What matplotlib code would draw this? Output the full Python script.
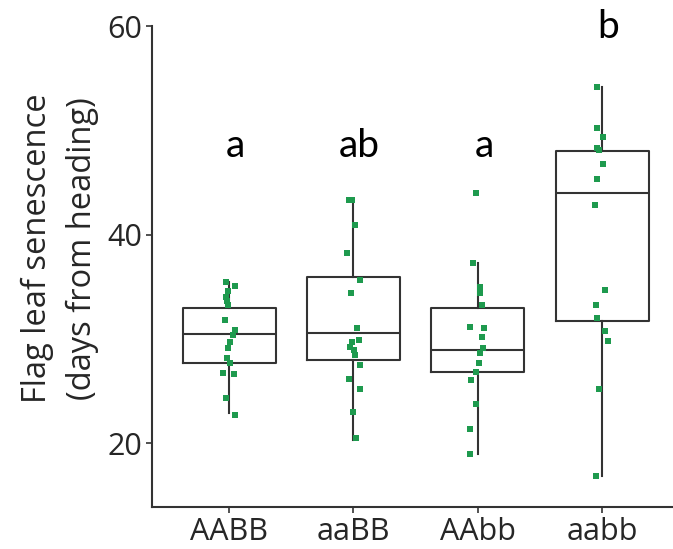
import matplotlib
matplotlib.use("Agg")
import matplotlib.pyplot as plt

GENOTYPES = ["AABB", "aaBB", "AAbb", "aabb"]
LETTERS = ["a", "ab", "a", "b"]
LETTER_Y = [47.4, 47.4, 47.4, 58.85]

# box stats
Q1 = [27.7, 28.0, 26.8, 31.7]
MEDIAN = [30.5, 30.6, 28.9, 44.0]
Q3 = [33.0, 35.9, 33.0, 48.0]
WHISK_LO = [22.9, 20.3, 18.9, 16.8]
WHISK_HI = [35.4, 43.3, 37.3, 54.2]

# individual plants (days) and their horizontal jitter
AABB_VALS = [35.4, 35.1, 34.6, 34.0, 33.6, 33.25, 31.8, 30.85, 30.4, 29.7,
             29.1, 28.2, 27.7, 26.7, 26.6, 24.3, 22.7]
AABB_JIT = [-0.027, 0.048, -0.006, -0.027, -0.019, -0.006, -0.032, 0.048, 0.027, 0.008,
            -0.006, -0.014, 0.008, -0.046, 0.035, -0.027, 0.043]
AABB2_VALS = [43.3, 43.3, 40.9, 38.2, 35.6, 34.4, 31.0, 29.9, 29.7, 29.2,
              28.9, 28.4, 27.5, 26.1, 25.2, 23.0, 20.5]
AABB2_JIT = [-0.038, -0.011, 0.011, -0.051, 0.051, -0.019, 0.030, 0.043, -0.011, -0.030,
             0.003, 0.016, 0.056, -0.038, 0.056, -0.003, 0.024]
AABB3_VALS = [44.0, 37.3, 35.0, 34.4, 33.25, 31.1, 31.0, 30.2, 29.1, 28.6,
              27.7, 26.8, 26.0, 23.7, 21.3, 18.9]
AABB3_JIT = [-0.011, -0.038, 0.016, 0.016, 0.030, -0.059, 0.048, 0.030, 0.043, 0.016,
             0.011, -0.016, -0.051, -0.016, -0.065, -0.059]
AABB4_VALS = [54.2, 50.2, 49.4, 48.3, 48.1, 46.8, 45.3, 42.8, 34.7, 33.25,
              32.0, 30.7, 29.8, 25.2, 16.8]
AABB4_JIT = [-0.038, -0.043, 0.005, -0.038, -0.027, 0.005, -0.043, -0.056, 0.024, -0.048,
             -0.043, 0.024, 0.051, -0.022, -0.051]

POINTS = [(AABB_VALS, AABB_JIT), (AABB2_VALS, AABB2_JIT),
          (AABB3_VALS, AABB3_JIT), (AABB4_VALS, AABB4_JIT)]

GREEN = "#1e9a4e"
LINE = "#333333"
TEXT = "#262626"

plt.rcParams["font.family"] = ["Open Sans", "DejaVu Sans"]

fig = plt.figure(figsize=(6.73, 5.49), dpi=100)
ax = fig.add_axes([0.226, 0.0765, 0.774, 0.876])

positions = list(range(1, len(GENOTYPES) + 1))
stats = []
for i, g in enumerate(GENOTYPES):
    stats.append({"label": g, "q1": Q1[i], "med": MEDIAN[i], "q3": Q3[i],
                  "whislo": WHISK_LO[i], "whishi": WHISK_HI[i], "fliers": []})

ax.bxp(stats, positions=positions, widths=0.75, showcaps=False, showfliers=False,
       boxprops=dict(color=LINE, linewidth=1.5),
       medianprops=dict(color=LINE, linewidth=1.5),
       whiskerprops=dict(color=LINE, linewidth=1.5), zorder=2)

for pos, (vals, jit) in zip(positions, POINTS):
    xs = [pos + j for j in jit]
    ax.plot(xs, vals, "s", color=GREEN, markersize=4.3, markeredgewidth=0, zorder=3)

for pos, lab, y in zip(positions, LETTERS, LETTER_Y):
    ax.text(pos + 0.05, y, lab, ha="center", va="baseline", fontsize=28,
            family=["Lato", "DejaVu Sans"], clip_on=False)

ax.set_xlim(0.38, 4.57)
ax.set_ylim(13.86, 60)
ax.set_yticks([20, 40, 60])
ax.set_xticks(positions)
ax.set_xticklabels(GENOTYPES)
ax.tick_params(labelsize=22, length=4, width=1.2, color=LINE, labelcolor=TEXT, pad=3)
for side in ["top", "right"]:
    ax.spines[side].set_visible(False)
for side in ["left", "bottom"]:
    ax.spines[side].set_linewidth(1.5)
    ax.spines[side].set_color(LINE)

fig.text(0.055, 0.548, "Flag leaf senescence", rotation=90, ha="center", va="center",
         fontsize=23.5, color=TEXT)
fig.text(0.122, 0.548, "(days from heading)", rotation=90, ha="center", va="center",
         fontsize=23.5, color=TEXT)

fig.savefig("out.png", dpi=100)
